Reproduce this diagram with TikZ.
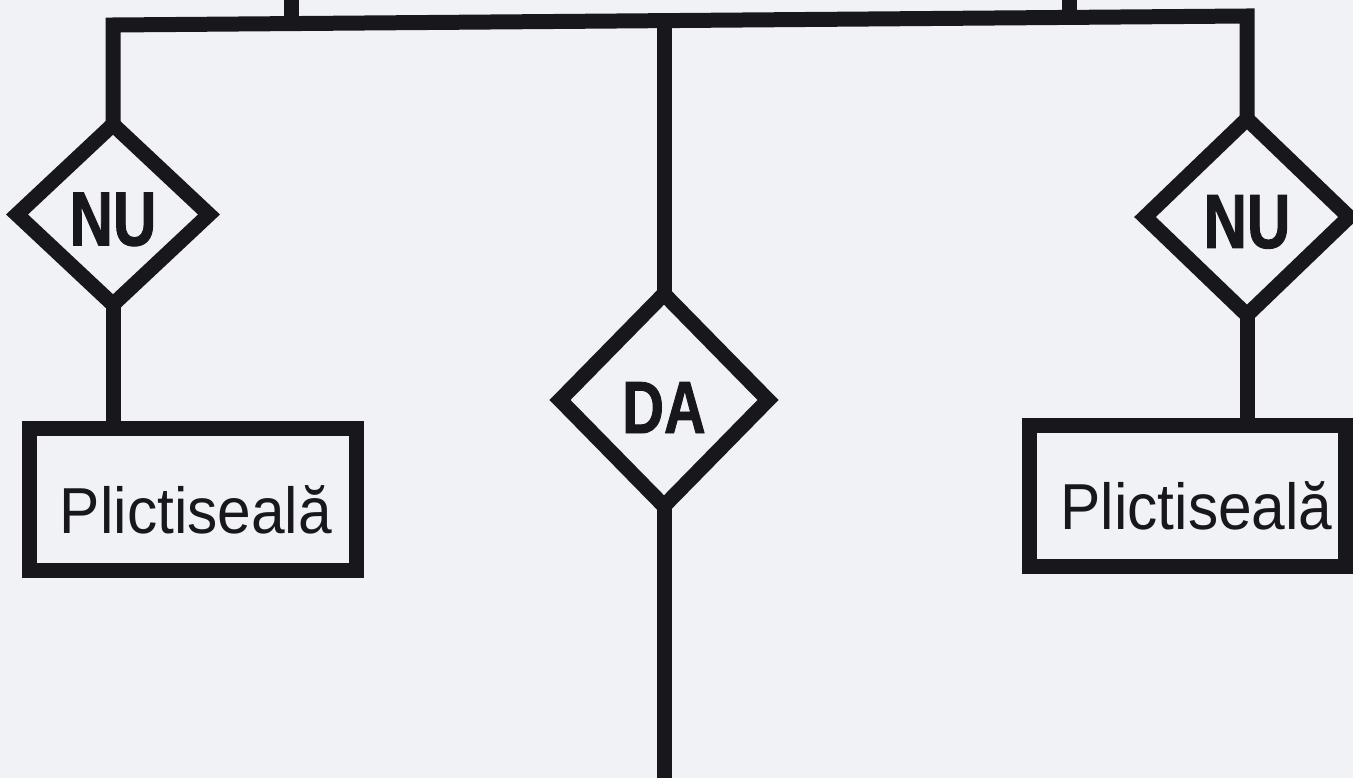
\documentclass[tikz,border=0pt]{standalone}
\usepackage{fontspec}
\setmainfont{Liberation Sans}
\newfontfamily\boxfont[FakeStretch=0.93]{Liberation Sans}
\newfontfamily\decfont[FakeStretch=0.78,FakeBold=1.2]{Liberation Sans}
\usetikzlibrary{shapes.geometric}
\pgfdeclarelayer{paperlayer}
\pgfdeclarelayer{linklayer}
\pgfsetlayers{paperlayer,linklayer,main}
\definecolor{ink}{RGB}{24,24,28}
\definecolor{paper}{RGB}{241,242,245}
\begin{document}
\begin{tikzpicture}[x=1pt,y=-1pt,
  flow/.style={draw=ink,line width=15pt,line join=miter,line cap=butt},
  dec/.style={diamond,draw=ink,line width=15pt,fill=paper,inner sep=0pt,outer sep=0pt,
    font=\decfont\bfseries\fontsize{77}{77}\selectfont,text=ink,
    text height=62pt,text depth=0pt},
  outcome/.style={rectangle,draw=ink,line width=15pt,fill=paper,inner sep=0pt,outer sep=0pt,
    font=\boxfont\fontsize{65}{65}\selectfont,text=ink,
    text height=68pt,text depth=0pt}]
\begin{pgfonlayer}{paperlayer}
\fill[paper] (0,0) rectangle (1353,778);
\end{pgfonlayer}
\useasboundingbox (0,0) rectangle (1353,778);

% decision nodes
\node[dec,minimum width=192pt,minimum height=180pt] (dl) at (113,214.5) {NU};
\node[dec,minimum width=208pt,minimum height=212pt,
      font=\decfont\bfseries\fontsize{74}{74}\selectfont,text height=66pt] (dc) at (664,400) {DA};
\node[dec,minimum width=204pt,minimum height=196pt] (dr) at (1247,217) {NU};

% outcome boxes
\node[outcome,minimum width=327pt,minimum height=142pt] (bl) at (192.5,499) {\hspace*{7pt}Plictiseală};
\node[outcome,minimum width=316pt,minimum height=141pt] (br) at (1187,495.5) {\hspace*{19pt}Plictiseală};

% junction points
\coordinate (cl) at (113,25);
\coordinate (cr) at (1247,16);
\coordinate (t1) at (291,-8);
\coordinate (j1) at (291,23.6);
\coordinate (t2) at (1069,-8);
\coordinate (j2) at (1069,17.4);
\coordinate (jc) at (664,20.6);
\coordinate (bot) at (664,790);

% connectors (behind the filled shapes)
\begin{pgfonlayer}{linklayer}
\draw[flow] (dl.center) -- (cl) -- (cr) -- (dr.center);
\draw[flow] (t1) -- (j1);
\draw[flow] (t2) -- (j2);
\draw[flow] (jc) -- (dc.center);
\draw[flow] (dc.center) -- (bot);
\draw[flow] (dl.center) -- (dl.center |- bl.center);
\draw[flow] (dr.center) -- (dr.center |- br.center);
\end{pgfonlayer}
\end{tikzpicture}
\end{document}
